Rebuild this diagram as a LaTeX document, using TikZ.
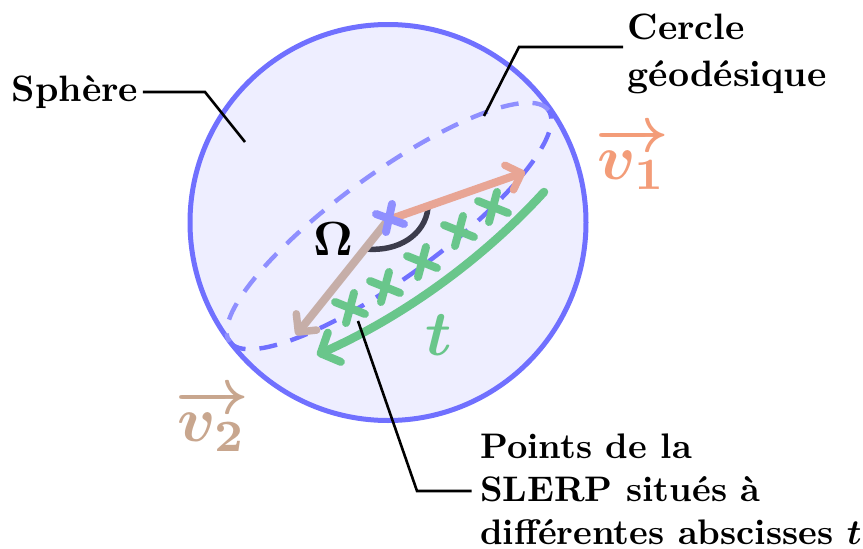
\documentclass[tikz,border=0pt]{standalone}
\usepackage{amsmath}
\usetikzlibrary{arrows.meta}
\definecolor{sphereblue}{HTML}{7070FF}
\definecolor{backblue}{HTML}{8F8FFF}
\definecolor{spherefill}{HTML}{EEEEFF}
\definecolor{vone}{HTML}{E8A595}
\definecolor{vonetext}{HTML}{F39C78}
\definecolor{vtwo}{HTML}{C6AEA8}
\definecolor{vtwotext}{HTML}{C8A68E}
\definecolor{tgreen}{HTML}{69C68B}
\definecolor{anglecol}{HTML}{3C3C4C}
\tikzset{
  lbl/.style={inner sep=0pt,scale=3.55,font=\bfseries\boldmath,align=left,text=black},
  toplbl/.style={inner sep=0pt,scale=3.67,font=\bfseries\boldmath,align=left,text=black},
  biglbl/.style={inner sep=0pt,scale=6.4,font=\boldmath},
  leader/.style={draw=black,line width=2.6pt,line join=miter},
  geo/.style={line width=4.4pt,dash pattern=on 18pt off 14pt},
  vec/.style={line width=8pt,-{Straight Barb[length=13pt,width=26pt,line width=7.5pt,round]}},
  crossmark/.style={line width=8pt,line cap=round,tgreen}
}
\newcommand{\crossat}[1]{\draw[crossmark] (#1)++(-15,-6) -- ++(30,12);\draw[crossmark] (#1)++(4,-15) -- ++(-8,30);}
\begin{document}
\begin{tikzpicture}[x=1pt,y=-1pt]
\useasboundingbox (0,0) rectangle (863,549);
\node[circle,minimum size=396pt,inner sep=0pt,draw=sphereblue,fill=spherefill,line width=5pt] (sphere) at (388,222.5) {};
% geodesic circle
\begin{scope}[shift={(389,226)},rotate=36]
\draw[geo,sphereblue] (-197,0) arc[start angle=180,end angle=0,x radius=197,y radius=52];
\draw[geo,backblue] (197,0) arc[start angle=360,end angle=180,x radius=197,y radius=52];
\end{scope}
% angle
\coordinate (centre) at (388,220);
\coordinate (aone) at (428,208);
\coordinate (atwo) at (366,249);
\draw[anglecol,line width=5.5pt] (aone) .. controls (425,235) and (398,252) .. (atwo);
% vectors
\coordinate (vonetip) at (525,172);
\coordinate (vtwotip) at (296,335);
\draw[vec,vone] (centre) -- (vonetip);
\draw[vec,vtwo] (centre) -- (vtwotip);
% centre cross
\draw[line width=8pt,line cap=round,backblue] (376,214) -- (404,224);
\draw[line width=8pt,line cap=round,backblue] (392,204) -- (386,232);
% t arrow
\coordinate (tstart) at (544,192);
\coordinate (tend) at (317,355);
\draw[line width=8.5pt,tgreen,line cap=round,-{Straight Barb[length=15pt,width=32pt,line width=8pt,round]}] (tstart) .. controls (480,262) and (400,318) .. (tend);
% crosses
\coordinate (p1) at (350,308);
\coordinate (p2) at (385,287);
\coordinate (p3) at (422,262);
\coordinate (p4) at (459,231);
\coordinate (p5) at (493,207);
\crossat{p1}\crossat{p2}\crossat{p3}\crossat{p4}\crossat{p5}
% labels
\node[toplbl,anchor=west] (sph) at (11,92) {Sphère};
\node[toplbl,anchor=north west] (cer) at (627,13) {Cercle\\[0.8pt]géodésique};
\node[lbl,anchor=north west] (pts) at (479.5,433.5) {Points de la\\SLERP situés à\\différentes abscisses $t$};
\node[inner sep=0pt,scale=4.8,font=\boldmath] (om) at (333,239.5) {$\Omega$};
\node[biglbl,text=tgreen] (tl) at (439,335) {$t$};
\node[biglbl,text=vonetext] (v1) at (632,158) {$\overrightarrow{v_1}$};
\node[biglbl,text=vtwotext] (v2) at (212,420) {$\overrightarrow{v_2}$};
% leaders
\coordinate (s1) at (205,92);
\coordinate (s2) at (245,142);
\coordinate (c1) at (519,47);
\coordinate (c2) at (484,116);
\coordinate (p6) at (417,491);
\coordinate (p7) at (358,321);
\draw[leader] (sph.east) ++(4,0) -- (s1) -- (s2);
\draw[leader] (cer.west |- 0,47) ++(-4,0) -- (c1) -- (c2);
\draw[leader] (pts.west |- 0,491) ++(-8,0) -- (p6) -- (p7);
\end{tikzpicture}
\end{document}
